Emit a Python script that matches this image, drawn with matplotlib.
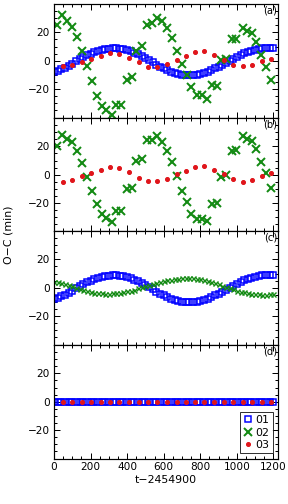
import matplotlib
matplotlib.use("Agg")
import matplotlib.pyplot as plt
from matplotlib.ticker import MultipleLocator, FixedLocator

plt.rcParams['font.family'] = ['DejaVu Sans']

# ---- data ----
t_o1 = [0, 20, 40, 60, 80, 100, 120, 140, 160, 180, 200, 220, 240, 260, 280, 300,
        320, 340, 360, 380, 400, 420, 440, 460, 480, 500, 520, 540, 560, 580, 600,
        620, 640, 660, 680, 700, 720, 740, 760, 780, 800, 820, 840, 860, 880, 900,
        920, 940, 960, 980, 1000, 1020, 1040, 1060, 1080, 1100, 1120, 1140, 1160,
        1180, 1200]
o1_oc = [-7.8, -7.0, -6.0, -4.8, -3.5, -2.0, -0.5, 1.0, 2.5, 3.9, 5.1, 6.2, 7.1, 7.8,
         8.3, 8.6, 8.7, 8.7, 8.5, 8.1, 7.5, 6.7, 5.7, 4.5, 3.2, 1.8, 0.3, -1.2, -2.7,
         -4.1, -5.4, -6.6, -7.6, -8.5, -9.2, -9.7, -10.0, -10.1, -10.0, -9.7, -9.2,
         -8.5, -7.6, -6.6, -5.4, -4.1, -2.8, -1.4, 0.0, 1.4, 2.8, 4.0, 5.2, 6.2, 7.1,
         7.8, 8.3, 8.7, 8.9, 9.0, 9.0]
o2_resid_c = [4.2, 3.8, 3.2, 2.5, 1.7, 0.9, 0.0, -0.8, -1.6, -2.3, -2.9, -3.4, -3.8,
              -4.0, -4.1, -4.1, -4.0, -3.8, -3.5, -3.1, -2.6, -2.0, -1.3, -0.5, 0.3,
              1.1, 1.9, 2.7, 3.4, 4.1, 4.7, 5.2, 5.7, 6.1, 6.4, 6.6, 6.7, 6.7, 6.6,
              6.3, 5.9, 5.4, 4.7, 4.0, 3.2, 2.3, 1.4, 0.5, -0.4, -1.2, -2.0, -2.7,
              -3.3, -3.8, -4.2, -4.5, -4.7, -4.8, -4.8, -4.7, -4.6]

t_o2 = [16, 42, 73, 98, 126, 152, 178, 207, 234, 261, 287, 316, 338, 366, 398, 426,
        451, 479, 506, 534, 561, 588, 616, 643, 671, 698, 725, 751, 780, 808, 835,
        864, 890, 916, 943, 973, 996, 1032, 1054, 1082, 1105, 1132, 1160, 1187]
o2_oc_a = [25.5, 32, 28, 24, 16.6, 6.8, -4, -14, -25, -31.6, -35, -38, -31, -31,
           -13.3, -11.4, 7.2, 10.7, 25.3, 26.7, 30, 27.9, 22.9, 16.1, 6.8, -2.3,
           -9.8, -18.7, -24.3, -24.3, -26.7, -16.8, -17.8, 0.2, 1.0, 15.4, 15,
           23.2, 20.8, 19.4, 13.1, 4.2, -4.4, -13.3]
o2_oc_b = [20.2, 28, 25.5, 23, 17, 8.3, -1.7, -11.2, -20.7, -28, -30.5, -33.6, -25.7,
           -25.7, -10, -9, 10, 11.2, 24.5, 24.3, 27.4, 23, 16.7, 9, -0.7, -11.2,
           -19.5, -27.4, -31.4, -31, -32.6, -20.7, -20.2, -1.7, 0, 16.7, 17.1, 27.4,
           25.5, 23.8, 17.9, 9, 1.2, -9.5]

t_o3 = [49, 101, 153, 205, 255, 308, 358, 411, 463, 513, 566, 616, 671, 722, 772,
        823, 873, 927, 979, 1031, 1083, 1136, 1187]
o3_oc_a = [-4, -3.3, -0.9, 1.2, 3.7, 5.6, 5.1, 2.1, -1.2, -4.2, -4.4, -2.5, 0.2, 3.3,
           6.1, 6.8, 4.2, 0.7, -2.8, -4, -2.8, -0.2, 1.4]
o3_oc_b = [-5, -4, -1.2, 1.2, 3.6, 5.7, 4.8, 1.7, -2.1, -4.3, -4.3, -2.9, 0.5, 2.4,
           5.2, 5.9, 3.6, 0.5, -2.9, -4.8, -3.6, -1.2, 1.2]

panel_labels = ['(a)', '(b)', '(c)', '(d)']
legend_labels = ['01', '02', '03']
xticks = [0, 200, 400, 600, 800, 1000, 1200]
yticks = [-20, 0, 20]

BLUE = '#0000ff'
GREEN = '#138a13'
RED = '#e0151b'

W, H = 288, 504
fig = plt.figure(figsize=(W / 72, H / 72), dpi=72)

left = 54 / W
width = (278 - 54) / W
tops = [4, 118, 231, 345]
ph = 113.5

sq = dict(ls='none', marker='s', ms=6.5, mfc='none', mec=BLUE, mew=1.5)
xb = dict(ls='none', marker='x', ms=7.5, color=GREEN, mew=2.0)
xs = dict(ls='none', marker='x', ms=5, color=GREEN, mew=1.4)
dot = dict(ls='none', marker='o', ms=4, color=RED, mec=RED)

axes = []
for i, tp in enumerate(tops):
    ax = fig.add_axes([left, 1 - (tp + ph) / H, width, ph / H])
    axes.append(ax)

ax = axes[0]
ax.plot(t_o1, o1_oc, **sq)
ax.plot(t_o2, o2_oc_a, **xb)
ax.plot(t_o3, o3_oc_a, **dot)

ax = axes[1]
ax.plot(t_o2, o2_oc_b, **xb)
ax.plot(t_o3, o3_oc_b, **dot)

ax = axes[2]
ax.plot(t_o1, o1_oc, **sq)
ax.plot(t_o1, o2_resid_c, **xs)

ax = axes[3]
h1, = ax.plot(t_o1, [0] * len(t_o1), **sq)
h2, = ax.plot([], [], **xb)
h3, = ax.plot(t_o3, [0] * len(t_o3), **dot)
leg = ax.legend([h1, h2, h3], legend_labels, loc='lower right', fontsize=11,
                frameon=True, fancybox=False, handlelength=0.8, handletextpad=0.3,
                borderpad=0.3, labelspacing=0.2, borderaxespad=0.5)
leg.get_frame().set_edgecolor('black')
leg.get_frame().set_linewidth(1.0)

for i, ax in enumerate(axes):
    ax.set_xlim(0, 1225)
    ax.set_ylim(-40, 40)
    ax.xaxis.set_major_locator(FixedLocator(xticks))
    ax.xaxis.set_minor_locator(MultipleLocator(50))
    ax.yaxis.set_major_locator(FixedLocator(yticks))
    ax.yaxis.set_minor_locator(MultipleLocator(5))
    ax.tick_params(which='both', direction='in', top=True, right=True,
                   labelsize=10.5, width=1.0, color='black')
    ax.tick_params(which='major', length=6)
    ax.tick_params(which='minor', length=3)
    ax.tick_params(axis='y', pad=4)
    for s in ax.spines.values():
        s.set_linewidth(1.2)
    if i < 3:
        ax.tick_params(labelbottom=False)
    ax.text(0.995, 0.985, panel_labels[i], transform=ax.transAxes, ha='right',
            va='top', fontsize=10)

axes[3].set_xlabel('t\u22122454900', fontsize=11, labelpad=3)
fig.text(9 / W, 1 - 235 / H, 'O\u2212C (min)', rotation=90, ha='center', va='center',
         fontsize=11)

fig.savefig('out.png', dpi=72)
